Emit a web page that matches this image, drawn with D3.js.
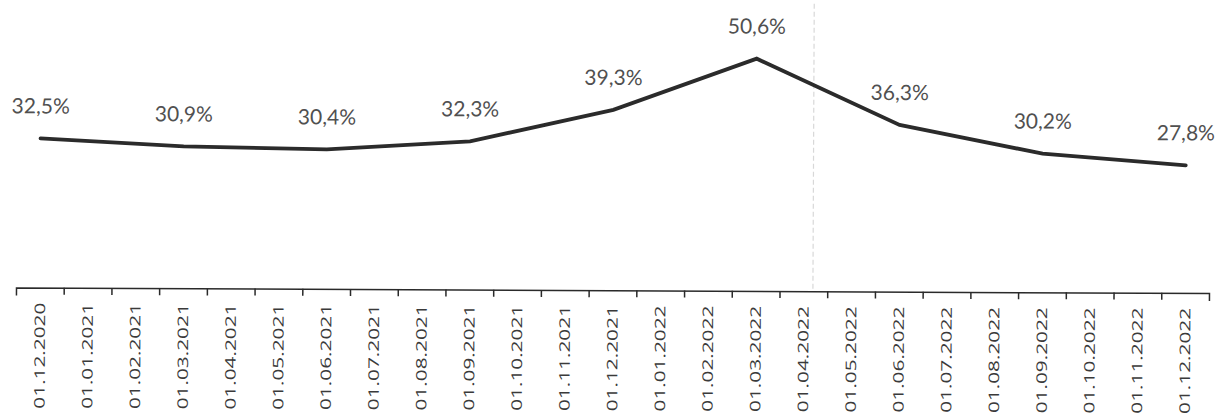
<!DOCTYPE html>
<html>
<head>
<meta charset="utf-8">
<script src="https://cdn.jsdelivr.net/npm/d3@7"></script>
<style>
  html, body { margin: 0; padding: 0; background: #fff; }
  svg { display: block; }
</style>
</head>
<body>
<svg id="chart" width="1220" height="417"></svg>
<script>
// ---- data ----
const categories = [
  "01.12.2020","01.01.2021","01.02.2021","01.03.2021","01.04.2021","01.05.2021",
  "01.06.2021","01.07.2021","01.08.2021","01.09.2021","01.10.2021","01.11.2021",
  "01.12.2021","01.01.2022","01.02.2022","01.03.2022","01.04.2022","01.05.2022",
  "01.06.2022","01.07.2022","01.08.2022","01.09.2022","01.10.2022","01.11.2022",
  "01.12.2022"
];
const pointDates = [
  "01.12.2020","01.03.2021","01.06.2021","01.09.2021","01.12.2021",
  "01.03.2022","01.06.2022","01.09.2022","01.12.2022"
];
const pointValues = [32.5, 30.9, 30.4, 32.3, 39.3, 50.6, 36.3, 30.2, 27.8];
const yDomain = [0, 60];

// ---- layout ----
const svg = d3.select("#chart");
const left = 16, right = 1209, axisY = 287.5, topY = 12.1;

const root = svg.append("g")
  .attr("transform", `rotate(0.265, ${left}, ${axisY})`);

const x = d3.scaleBand().domain(categories).range([left, right]).paddingInner(0).paddingOuter(0);
const xEdges = d3.scaleLinear().domain([0, categories.length]).range([left, right]);
const y = d3.scaleLinear().domain(yDomain).range([axisY, topY]);

// faint vertical dashed guide (as seen in reference)
const guideX = x("01.04.2022") + x.bandwidth() * 0.7;
root.append("line")
  .attr("x1", guideX).attr("x2", guideX)
  .attr("y1", 0).attr("y2", axisY)
  .attr("stroke", "#d8d8d8").attr("stroke-width", 1.2)
  .attr("stroke-dasharray", "5,3");

// axis: boundary ticks
const tickAxis = root.append("g")
  .attr("transform", `translate(0,${axisY})`)
  .call(d3.axisBottom(xEdges).tickValues(d3.range(1, categories.length)).tickSizeInner(7).tickSizeOuter(8).tickFormat(""));
tickAxis.selectAll("path, line").attr("stroke", "#2a2a2a").attr("stroke-width", 1.5);

// axis: labels at band centers
const labelAxis = root.append("g")
  .attr("transform", `translate(0,${axisY})`)
  .call(d3.axisBottom(x).tickSize(0).tickPadding(0));
labelAxis.select(".domain").remove();
labelAxis.selectAll("text")
  .attr("transform", "rotate(-90)")
  .attr("x", -15)
  .attr("y", 0)
  .attr("dy", "0.36em")
  .attr("text-anchor", "end")
  .attr("fill", "#3a3a3a")
  .style("font-family", "'Open Sans', Lato, sans-serif")
  .style("font-size", "14.5px")
  .attr("textLength", 106)
  .attr("lengthAdjust", "spacingAndGlyphs");

// line
const pts = pointDates.map((d, i) => ({ d, v: pointValues[i] }));
const line = d3.line()
  .x(p => x(p.d) + x.bandwidth() / 2)
  .y(p => y(p.v));

root.append("path")
  .datum(pts)
  .attr("d", line)
  .attr("fill", "none")
  .attr("stroke", "#2b2b2b")
  .attr("stroke-width", 3.8)
  .attr("stroke-linejoin", "miter")
  .attr("stroke-linecap", "round");

// data labels
const fmt = v => v.toFixed(1).replace(".", ",") + "%";
root.selectAll(".dlabel")
  .data(pts)
  .join("text")
  .attr("class", "dlabel")
  .attr("x", p => x(p.d) + x.bandwidth() / 2)
  .attr("y", p => y(p.v) - 25)
  .attr("text-anchor", "middle")
  .attr("fill", "#505050")
  .style("font-family", "Lato, 'Open Sans', sans-serif")
  .style("font-size", "21px")
  .text(p => fmt(p.v));
</script>
</body>
</html>
